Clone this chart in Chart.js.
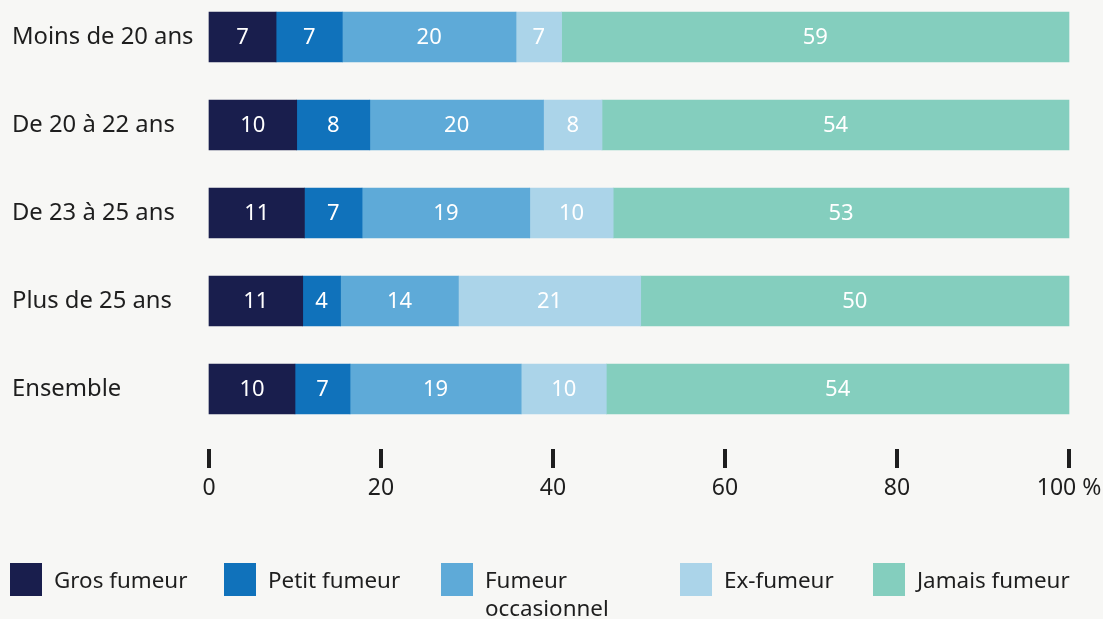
<!DOCTYPE html>
<html>
<head>
<meta charset="utf-8">
<script src="https://cdn.jsdelivr.net/npm/chart.js@4/dist/chart.umd.min.js"></script>
<style>
  html, body { margin: 0; padding: 0; background: #f7f7f5; }
  #wrap { position: relative; width: 1103px; height: 619px; }
</style>
</head>
<body>
<div id="wrap"><canvas id="c" width="1103" height="619"></canvas></div>
<script>
// ---- Data ----
const categories = ['Moins de 20 ans', 'De 20 à 22 ans', 'De 23 à 25 ans', 'Plus de 25 ans', 'Ensemble'];
const seriesNames = ['Gros fumeur', 'Petit fumeur', 'Fumeur occasionnel', 'Ex-fumeur', 'Jamais fumeur'];
// segment widths as drawn (%)
const grosFumeur = [7.8, 10.2, 11.1, 10.9, 10.0];
const petitFumeur = [7.7, 8.5, 6.7, 4.4, 6.4];
const fumeurOccasionnel = [20.2, 20.2, 19.5, 13.7, 19.9];
const exFumeur = [5.3, 6.8, 9.7, 21.2, 9.9];
const jamaisFumeur = [59.0, 54.3, 53.0, 49.8, 53.8];
// printed labels
const grosFumeurLabels = [7, 10, 11, 11, 10];
const petitFumeurLabels = [7, 8, 7, 4, 7];
const fumeurOccasionnelLabels = [20, 20, 19, 14, 19];
const exFumeurLabels = [7, 8, 10, 21, 10];
const jamaisFumeurLabels = [59, 54, 53, 50, 54];
const xTickValues = [0, 20, 40, 60, 80, 100];
const xTickLabels = ['0', '20', '40', '60', '80', '100 %'];

const colors = ['#191e4d', '#1072bb', '#5eaad8', '#abd4e9', '#84cebe'];
const FONT = '"Noto Sans", "Open Sans", sans-serif';
const TEXT = '#1e1e1e';

const values = [grosFumeur, petitFumeur, fumeurOccasionnel, exFumeur, jamaisFumeur];
const labelsArr = [grosFumeurLabels, petitFumeurLabels, fumeurOccasionnelLabels, exFumeurLabels, jamaisFumeurLabels];

const datasets = values.map((v, i) => ({
  label: seriesNames[i],
  data: v,
  valueLabels: labelsArr[i],
  backgroundColor: colors[i],
  borderWidth: 0,
  barThickness: 50,
  clip: false
}));

const barLabelPlugin = {
  id: 'barLabels',
  afterDatasetsDraw(chart) {
    const ctx = chart.ctx;
    ctx.save();
    ctx.font = '22px ' + FONT;
    ctx.fillStyle = '#ffffff';
    ctx.textAlign = 'center';
    ctx.textBaseline = 'middle';
    chart.data.datasets.forEach((ds, di) => {
      const meta = chart.getDatasetMeta(di);
      meta.data.forEach((el, i) => {
        const p = el.getProps(['x', 'y', 'base'], true);
        ctx.fillText(String(ds.valueLabels[i]), (p.x + p.base) / 2, p.y + 1);
      });
    });
    ctx.restore();
  }
};

const tickMarkPlugin = {
  id: 'tickMarks',
  afterDraw(chart) {
    const ctx = chart.ctx;
    const xs = chart.scales.x;
    ctx.save();
    ctx.fillStyle = '#1e1e1e';
    xTickValues.forEach(v => {
      const px = Math.round(xs.getPixelForValue(v));
      ctx.fillRect(px - 2, 449, 4, 19);
    });
    ctx.restore();
  }
};

const legendBoxX = [10, 224, 441, 680, 873];
const legendPlugin = {
  id: 'customLegend',
  afterDraw(chart) {
    const ctx = chart.ctx;
    ctx.save();
    ctx.font = '22.4px ' + FONT;
    ctx.textBaseline = 'middle';
    ctx.textAlign = 'left';
    chart.data.datasets.forEach((ds, i) => {
      const bx = legendBoxX[i];
      ctx.fillStyle = ds.backgroundColor;
      ctx.fillRect(bx, 563, 32, 33);
      const tx = bx + 44;
      const maxW = (i < legendBoxX.length - 1 ? legendBoxX[i + 1] : 1103) - tx - 8;
      const words = ds.label.split(' ');
      const lines = [];
      let cur = '';
      words.forEach(w => {
        const t = cur ? cur + ' ' + w : w;
        if (ctx.measureText(t).width > maxW && cur) { lines.push(cur); cur = w; }
        else cur = t;
      });
      lines.push(cur);
      ctx.fillStyle = TEXT;
      lines.forEach((ln, k) => ctx.fillText(ln, tx, 582 + k * 28));
    });
    ctx.restore();
  }
};

new Chart(document.getElementById('c'), {
  type: 'bar',
  data: { labels: categories, datasets },
  plugins: [barLabelPlugin, tickMarkPlugin, legendPlugin],
  options: {
    indexAxis: 'y',
    responsive: false,
    animation: false,
    layout: { padding: { left: 12, right: 34, top: 37, bottom: 0 } },
    plugins: { legend: { display: false }, tooltip: { enabled: false } },
    scales: {
      y: {
        stacked: true,
        offset: false,
        grid: { display: false, drawTicks: false },
        border: { display: false },
        ticks: { crossAlign: 'far', color: TEXT, font: { family: FONT, size: 23.8 }, padding: 0 },
        afterFit(scale) { scale.width = 197; scale.paddingTop = 0; scale.paddingBottom = 0; }
      },
      x: {
        stacked: true,
        min: 0, max: 100,
        grid: { display: false, drawTicks: false },
        border: { display: false },
        ticks: {
          stepSize: 20,
          maxRotation: 0,
          autoSkip: false,
          color: TEXT,
          font: { family: FONT, size: 23 },
          padding: 86,
          callback: (v) => { const k = xTickValues.indexOf(v); return k >= 0 ? xTickLabels[k] : ''; }
        },
        afterFit(scale) { scale.height = 230; scale.paddingLeft = 0; scale.paddingRight = 0; }
      }
    }
  }
});
</script>
</body>
</html>
